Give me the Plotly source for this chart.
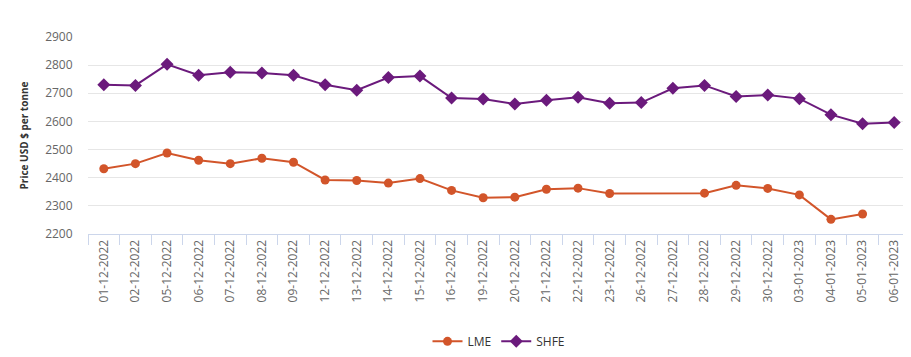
import plotly.graph_objects as go

dates = ["01-12-2022", "02-12-2022", "05-12-2022", "06-12-2022", "07-12-2022",
         "08-12-2022", "09-12-2022", "12-12-2022", "13-12-2022", "14-12-2022",
         "15-12-2022", "16-12-2022", "19-12-2022", "20-12-2022", "21-12-2022",
         "22-12-2022", "23-12-2022", "26-12-2022", "27-12-2022", "28-12-2022",
         "29-12-2022", "30-12-2022", "03-01-2023", "04-01-2023", "05-01-2023",
         "06-01-2023"]

lme = [2432, 2450, 2488, 2462, 2450, 2469, 2455, 2392, 2390, 2381,
       2397, 2355, 2329, 2331, 2359, 2363, 2344, None, None, 2345,
       2373, 2362, 2339, 2252, 2271, None]

shfe = [2730, 2728, 2803, 2764, 2775, 2772, 2764, 2730, 2711, 2756,
        2761, 2683, 2680, 2662, 2675, 2686, 2665, 2667, 2718, 2728,
        2689, 2694, 2681, 2624, 2592, 2596]

lme_color = "#d2552a"
shfe_color = "#6b1a7c"

fig = go.Figure()
fig.add_trace(go.Scatter(x=dates, y=lme, name="LME", mode="lines+markers",
                         connectgaps=True,
                         line=dict(color=lme_color, width=2),
                         marker=dict(symbol="circle", size=9, color=lme_color)))
fig.add_trace(go.Scatter(x=dates, y=shfe, name="SHFE", mode="lines+markers",
                         line=dict(color=shfe_color, width=2),
                         marker=dict(symbol="diamond", size=10, color=shfe_color)))

fig.update_layout(
    width=911, height=357,
    margin=dict(l=80, r=9, t=29, b=127),
    paper_bgcolor="white", plot_bgcolor="white",
    font=dict(family="Open Sans, Arial, sans-serif", color="#666666"),
    showlegend=True,
    legend=dict(orientation="h", x=0.5, xanchor="center", y=-0.545, yanchor="middle",
                font=dict(size=12, color="#333333"), itemwidth=30,
                tracegroupgap=0),
    hovermode=False,
)
fig.update_xaxes(type="category", tickson="boundaries", ticks="outside", ticklen=10,
                 tickcolor="#ccd6eb", showline=True, linecolor="#ccd6eb", linewidth=1,
                 showgrid=False, tickangle=-90, tickfont=dict(size=12, color="#666666"),
                 range=[-0.5, 25.5], automargin=False)
fig.update_yaxes(range=[2200, 2900], dtick=100, showgrid=True, gridcolor="#e6e6e6",
                 zeroline=False, ticks="outside", ticklen=12, tickcolor="rgba(0,0,0,0)",
                 tickfont=dict(size=12, color="#666666"), automargin=False,
                 title=dict(text="<b>Price USD $ per tonne</b>", font=dict(size=10, color="#333333"),
                            standoff=14))

fig.write_html("out.html")
